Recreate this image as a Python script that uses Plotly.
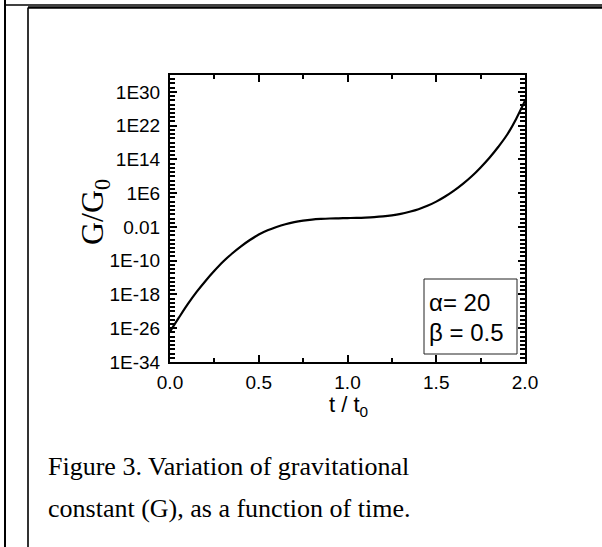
import plotly.graph_objects as go

# ---- data ----
t_over_t0 = [0.0, 0.05, 0.1, 0.15, 0.2, 0.25, 0.3, 0.35, 0.4, 0.45, 0.5, 0.55, 0.6, 0.65, 0.7,
             0.75, 0.8, 0.85, 0.9, 0.95, 1.0, 1.05, 1.1, 1.15, 1.2, 1.25, 1.3, 1.35, 1.4, 1.45,
             1.5, 1.55, 1.6, 1.65, 1.7, 1.75, 1.8, 1.85, 1.9, 1.95, 2.0]
log10_G_over_G0 = [-26.8, -23.5, -20.3, -17.4, -14.8, -12.4, -10.2, -8.3, -6.6, -5.1, -3.8, -2.8,
                   -2.0, -1.35, -0.85, -0.5, -0.25, -0.1, 0.0, 0.05, 0.1, 0.15, 0.22, 0.33, 0.5,
                   0.75, 1.1, 1.6, 2.2, 3.0, 4.0, 5.2, 6.6, 8.2, 10.0, 12.1, 14.4, 17.0, 19.9,
                   23.6, 27.9]
G_over_G0 = [10.0 ** v for v in log10_G_over_G0]

y_tick_exps = [-34, -26, -18, -10, -2, 6, 14, 22, 30]
y_tick_text = ["1E-34", "1E-26", "1E-18", "1E-10", "0.01", "1E6", "1E14", "1E22", "1E30"]
x_tick_vals = [0.0, 0.5, 1.0, 1.5, 2.0]
x_tick_text = ["0.0", "0.5", "1.0", "1.5", "2.0"]
legend_lines = ["α= 20", "β = 0.5"]
caption_lines = ["Figure 3. Variation of gravitational",
                 "constant (G), as a function of time."]

# ---- geometry (pixels) ----
W, H = 602, 547
L, R, T, B = 170, 525, 75, 362
PW, PH = R - L, B - T


def px(x):
    return (x - L) / PW


def py(y):
    return (B - y) / PH


SANS = "Liberation Sans, Arial, sans-serif"
SERIF = "Liberation Serif, Times New Roman, serif"

fig = go.Figure()
fig.add_trace(go.Scatter(x=t_over_t0, y=G_over_G0, mode="lines",
                         line=dict(color="black", width=2.2, shape="spline", smoothing=1.0),
                         showlegend=False, hoverinfo="skip"))

fig.update_layout(
    width=W, height=H,
    margin=dict(l=L, r=W - R, t=T, b=H - B, pad=0),
    paper_bgcolor="white", plot_bgcolor="white",
    font=dict(family=SANS, color="black", size=19),
    showlegend=False,
)

fig.update_xaxes(
    range=[0, 2], showgrid=False, zeroline=False,
    showline=True, linecolor="black", linewidth=2, mirror="ticks",
    ticks="inside", ticklen=7, tickwidth=1.5, tickcolor="black",
    tickvals=x_tick_vals, ticktext=x_tick_text,
    tickfont=dict(family=SANS, size=19, color="black"),
    ticklabelstandoff=2,
    minor=dict(ticks="inside", ticklen=4, tickwidth=1.5, tickcolor="black",
               tickvals=[0.25, 0.75, 1.25, 1.75], showgrid=False),
)
fig.update_yaxes(
    type="log", range=[-34, 34], showgrid=False, zeroline=False,
    showline=True, linecolor="black", linewidth=2, mirror="ticks",
    ticks="inside", ticklen=7, tickwidth=1.5, tickcolor="black",
    tickvals=[10.0 ** e for e in y_tick_exps], ticktext=y_tick_text,
    tickfont=dict(family=SANS, size=19, color="black"),
    ticklabelstandoff=4,
    minor=dict(ticks="inside", ticklen=5, tickwidth=1.5, tickcolor="black",
               tickvals=[10.0 ** e for e in range(-34, 35)], showgrid=False),
)

shapes = [
    # outer page frame lines
    dict(type="line", xref="paper", yref="paper", x0=px(5), x1=px(5), y0=py(0), y1=py(H),
         line=dict(color="black", width=2)),
    dict(type="line", xref="paper", yref="paper", x0=px(5), x1=px(W), y0=py(5), y1=py(5),
         line=dict(color="black", width=1.5)),
    dict(type="line", xref="paper", yref="paper", x0=px(28), x1=px(28), y0=py(7.5), y1=py(H),
         line=dict(color="#333333", width=2)),
    dict(type="line", xref="paper", yref="paper", x0=px(28), x1=px(W), y0=py(7.5), y1=py(7.5),
         line=dict(color="black", width=2.5)),
    # parameter box
    dict(type="rect", xref="paper", yref="paper", x0=px(424), x1=px(517), y0=py(354), y1=py(279),
         line=dict(color="#222222", width=1), fillcolor="white"),
]
fig.update_layout(shapes=shapes)

annotations = [
    dict(text="G/G<sub>0</sub>", xref="paper", yref="paper", x=px(94), y=py(212),
         xanchor="center", yanchor="middle", textangle=-90, showarrow=False,
         font=dict(family=SERIF, size=32, color="black")),
    dict(text="t / t<sub>0</sub>", xref="paper", yref="paper", x=px(348), y=py(406),
         xanchor="center", yanchor="middle", showarrow=False,
         font=dict(family=SANS, size=22, color="black")),
    dict(text=legend_lines[0], xref="paper", yref="paper", x=px(427), y=py(302),
         xanchor="left", yanchor="middle", showarrow=False,
         font=dict(family=SANS, size=24, color="black")),
    dict(text=legend_lines[1], xref="paper", yref="paper", x=px(427), y=py(332),
         xanchor="left", yanchor="middle", showarrow=False,
         font=dict(family=SANS, size=24, color="black")),
    dict(text=caption_lines[0], xref="paper", yref="paper", x=px(46), y=py(466),
         xanchor="left", yanchor="middle", showarrow=False,
         font=dict(family=SERIF, size=26, color="black")),
    dict(text=caption_lines[1], xref="paper", yref="paper", x=px(46), y=py(508),
         xanchor="left", yanchor="middle", showarrow=False,
         font=dict(family=SERIF, size=26, color="black")),
]
fig.update_layout(annotations=annotations)

fig.write_html("out.html")
